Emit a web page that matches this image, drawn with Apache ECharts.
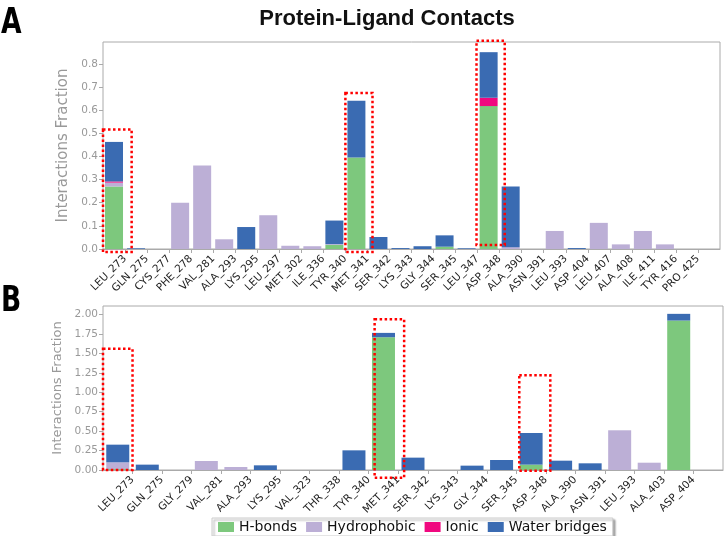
<!DOCTYPE html>
<html><head><meta charset="utf-8">
<script src="https://cdn.jsdelivr.net/npm/echarts@6/dist/echarts.min.js"></script>
<style>html,body{margin:0;padding:0;background:#fff}#c{width:728px;height:536px}</style>
</head><body><div id="c"></div>
<script>
// ---- Panel A data ----
const catsA = ['LEU_273','GLN_275','CYS_277','PHE_278','VAL_281','ALA_293','LYS_295','LEU_297','MET_302','ILE_336','TYR_340','MET_341','SER_342','LYS_343','GLY_344','SER_345','LEU_347','ASP_348','ALA_390','ASN_391','LEU_393','ASP_404','LEU_407','ALA_408','ILE_411','TYR_416','PRO_425'];
const hbondsA = [0.27,0,0,0,0,0,0,0,0,0,0.018,0.396,0,0,0,0.010,0,0.618,0,0,0,0,0,0,0,0,0];
const hydroA  = [0.017,0,0,0.20,0.361,0.042,0,0.146,0.014,0.012,0.003,0,0,0,0,0,0,0,0.008,0,0.078,0,0.113,0.020,0.078,0.020,0];
const ionicA  = [0.005,0,0,0,0,0,0,0,0,0,0,0,0,0,0,0,0,0.036,0,0,0,0,0,0,0,0,0];
const waterA  = [0.171,0.003,0,0,0,0,0.095,0,0,0,0.102,0.245,0.052,0.004,0.012,0.049,0.003,0.197,0.262,0,0,0.004,0,0,0,0,0];
const yTicksA = [0,0.1,0.2,0.3,0.4,0.5,0.6,0.7,0.8];
// highlight boxes: [category, x start offset, x end offset (band units), y bottom, y top]
const boxesA = [['LEU_273',0,1.3,-0.013,0.517],['MET_341',0,1.23,-0.013,0.675],['ASP_348',-0.05,1.23,0.017,0.9]];

// ---- Panel B data ----
const catsB = ['LEU_273','GLN_275','GLY_279','VAL_281','ALA_293','LYS_295','VAL_323','THR_338','TYR_340','MET_341','SER_342','LYS_343','GLY_344','SER_345','ASP_348','ALA_390','ASN_391','LEU_393','ALA_403','ASP_404'];
const hbondsB = [0.012,0,0,0,0,0,0,0,0,1.708,0,0,0,0,0.069,0,0,0,0,1.923];
const hydroB  = [0.087,0,0,0.116,0.039,0,0,0,0,0,0,0,0,0,0,0,0,0.511,0.094,0];
const ionicB  = [0,0,0,0,0,0,0,0,0,0,0,0,0,0,0,0,0,0,0,0];
const waterB  = [0.227,0.069,0,0,0,0.06,0,0,0.253,0.056,0.159,0,0.056,0.129,0.407,0.12,0.086,0,0,0.086];
const yTicksB = [0,0.25,0.5,0.75,1.0,1.25,1.5,1.75,2.0];
const boxesB = [['LEU_273',0,1,0,1.56],['MET_341',0.2,1.2,-0.1,1.94],['ASP_348',0.1,1.15,-0.01,1.22]];

const seriesNames = ['H-bonds','Hydrophobic','Ionic','Water bridges'];
const colors = ['#7dc87d','#bcafd6','#f0087f','#3a6bb2'];

const FONT = 'DejaVu Sans';
const GRID_COLOR = '#aaaaaa';

function catAxis(cats, gi){
  return {type:'category', gridIndex:gi, data:cats.concat(['']), boundaryGap:true,
    axisLine:{show:true,lineStyle:{color:GRID_COLOR}}, axisTick:{show:false}, axisLabel:{show:false}, splitLine:{show:false}};
}
function labelAxis(cats, gi){
  const idx = cats.map((c,i)=>i+1);
  return {type:'value', gridIndex:gi, min:0, max:cats.length+1, position:'bottom',
    axisLine:{show:false}, splitLine:{show:false},
    axisTick:{show:true, length:4, lineStyle:{color:GRID_COLOR}, customValues:idx},
    axisLabel:{show:true, rotate:45, margin:8, fontSize:10.5, fontFamily:FONT, color:'#222',
      customValues:idx, formatter:v=>cats[Math.round(v)-1] || ''}};
}
function yAxis(gi, max, ticks, dec, nameSize, nameGap){
  return {type:'value', gridIndex:gi, min:0, max:max,
    name:'Interactions Fraction', nameLocation:'middle', nameGap:nameGap,
    nameTextStyle:{color:'#999', fontSize:nameSize, fontFamily:FONT},
    axisLine:{show:false}, splitLine:{show:false},
    axisTick:{show:true, length:4, lineStyle:{color:GRID_COLOR}, customValues:ticks},
    axisLabel:{show:true, fontSize:10.5, fontFamily:FONT, color:'#999', margin:5,
      customValues:ticks, formatter:v=>v.toFixed(dec)}};
}
function stackSeries(dataArr, xi, yi, stack, bw){
  return dataArr.map((d,k)=>({name:seriesNames[k], type:'bar', stack:stack, xAxisIndex:xi, yAxisIndex:yi,
    barWidth:bw, data:d, itemStyle:{color:colors[k]}, emphasis:{disabled:true}}));
}

const chart = echarts.init(document.getElementById('c'), null, {renderer:'canvas'});
chart.setOption({
  animation:false,
  color:colors,
  title:{text:'Protein-Ligand Contacts', left:382, textAlign:'center', top:3,
    textStyle:{fontFamily:'Liberation Sans', fontWeight:'bold', fontSize:22, color:'#111'}},
  legend:{data:seriesNames, left:212, top:518, icon:'rect', itemWidth:16, itemHeight:10, itemGap:9,
    padding:[2,6], borderColor:'#cccccc', borderWidth:1, backgroundColor:'#fff',
    shadowColor:'rgba(0,0,0,0.35)', shadowOffsetX:2, shadowOffsetY:2, shadowBlur:2,
    textStyle:{fontFamily:FONT, fontSize:14, color:'#111'}},
  grid:[
    {left:103, top:42, width:617, height:207, show:true, borderColor:GRID_COLOR, borderWidth:1, backgroundColor:'#fff'},
    {left:103, top:306, width:620, height:164, show:true, borderColor:GRID_COLOR, borderWidth:1, backgroundColor:'#fff'}
  ],
  xAxis:[catAxis(catsA,0), labelAxis(catsA,0), catAxis(catsB,1), labelAxis(catsB,1)],
  yAxis:[yAxis(0,0.895,yTicksA,1,15,31), yAxis(1,2.11,yTicksB,2,13,38)],
  series:[].concat(
    stackSeries([hbondsA,hydroA,ionicA,waterA],0,0,'A',18),
    stackSeries([hbondsB,hydroB,ionicB,waterB],2,1,'B',23)
  )
});

function boxGraphics(boxes, cats, xi, yi){
  return boxes.map(b=>{
    const i = cats.indexOf(b[0]);
    const x0 = chart.convertToPixel({xAxisIndex:xi}, i + b[1]);
    const x1 = chart.convertToPixel({xAxisIndex:xi}, i + b[2]);
    const y0 = chart.convertToPixel({yAxisIndex:yi}, b[3]);
    const y1 = chart.convertToPixel({yAxisIndex:yi}, b[4]);
    return {type:'rect', z:100, shape:{x:x0, y:y1, width:x1-x0, height:y0-y1},
      style:{fill:null, stroke:'#ff0000', lineWidth:2.5, lineDash:[2.5,2.5]}};
  });
}
chart.setOption({graphic:[
  {type:'text', left:1, top:6, scaleX:0.82, style:{text:'A', fontFamily:'DejaVu Sans Condensed', fontWeight:'bold', fontSize:36, fill:'#000'}},
  {type:'text', left:1, top:284, scaleX:0.82, style:{text:'B', fontFamily:'DejaVu Sans Condensed', fontWeight:'bold', fontSize:36, fill:'#000'}}
].concat(boxGraphics(boxesA, catsA, 1, 0), boxGraphics(boxesB, catsB, 3, 1))});
</script></body></html>
